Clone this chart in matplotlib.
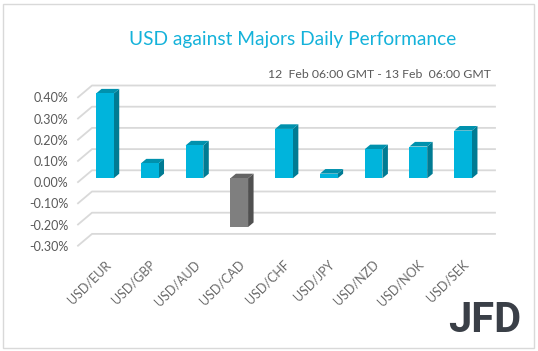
import numpy as np
import matplotlib
matplotlib.use('Agg')
import matplotlib.pyplot as plt
from matplotlib.patches import Polygon, Rectangle

#************************************
''' Data '''
#************************************
pairs = ['USD/EUR', 'USD/GBP', 'USD/AUD', 'USD/CAD', 'USD/CHF',
         'USD/JPY', 'USD/NZD', 'USD/NOK', 'USD/SEK']
perf = [0.40, 0.07, 0.155, -0.23, 0.233, 0.022, 0.137, 0.15, 0.225]
yticks = [-0.3, -0.2, -0.1, 0.0, 0.1, 0.2, 0.3, 0.4]
title = 'USD against Majors Daily Performance'
subtitle = '12  Feb 06:00 GMT - 13 Feb  06:00 GMT'

plt.rcParams['font.family'] = ['Lato', 'DejaVu Sans']
W, H, dpi = 538, 351, 100
fig = plt.figure(figsize=(W/dpi, H/dpi), dpi=dpi)

# front plane of the 3D box, in pixels
fx0, fx1, fy_top, fy_bot = 78, 481, 97.3, 245.7
ax = fig.add_axes([fx0/W, 1-fy_bot/H, (fx1-fx0)/W, (fy_bot-fy_top)/H])
ax.set_xlim(-0.5, len(pairs)-0.5)
ax.set_ylim(yticks[0], yticks[-1])
for s in ax.spines.values():
    s.set_visible(False)

pxx = (fx1-fx0)/len(pairs)
pxy = (fy_bot-fy_top)/(yticks[-1]-yticks[0])

# back wall gridlines
gdx, gdy = 14/pxx, 11.8/pxy
for v in yticks:
    ax.plot([-0.5, -0.5+gdx, len(pairs)-0.5+gdx], [v, v+gdy, v+gdy],
            color='#d9d9d9', lw=1.3, zorder=1, clip_on=False)

# bars: front face through ax.bar, top/side as polygons
ox, oy = 4.5/pxx, 3.8/pxy
ddx, ddy = 5.5/pxx, 4.6/pxy
bw = 17.7/pxx
x = np.arange(len(pairs))
front = ['#00b4dc' if v >= 0 else '#7f7f7f' for v in perf]
side = ['#007b93' if v >= 0 else '#505050' for v in perf]
top = ['#0091ad' if v >= 0 else '#646464' for v in perf]
ax.bar(x+ox, perf, width=bw, bottom=oy, color=front, zorder=3,
       edgecolor='none', clip_on=False)
for i, v in enumerate(perf):
    x0, x1 = i+ox-bw/2, i+ox+bw/2
    lo, hi = oy+min(v, 0), oy+max(v, 0)
    ax.add_patch(Polygon([(x1, lo), (x1, hi), (x1+ddx, hi+ddy), (x1+ddx, lo+ddy)],
                         closed=True, color=side[i], lw=0, zorder=2.9, clip_on=False))
    ax.add_patch(Polygon([(x0, hi), (x1, hi), (x1+ddx, hi+ddy), (x0+ddx, hi+ddy)],
                         closed=True, color=top[i], lw=0, zorder=2.9, clip_on=False))

ax.set_yticks(yticks)
ax.set_yticklabels(['%.2f%%' % v for v in yticks], color='#595959', fontsize=9)
ax.set_xticks(x+0.08)
ax.set_xticklabels(pairs, rotation=45, ha='right', rotation_mode='anchor',
                   color='#6a6a6a', fontsize=9)
ax.tick_params(length=0)
ax.tick_params(axis='y', pad=7)
ax.tick_params(axis='x', pad=9)

fig.text(293/W, 1-39/H, title, color='#14b2da', fontsize=13.8, ha='center', va='center')
fig.text(491/W, 1-74/H, subtitle, color='#595959', fontsize=8.8, ha='right', va='center')
fig.text(485/W, 1-321/H, 'JFD', color='#3a3f47', fontsize=30, fontweight='bold',
         family='Roboto', ha='center', va='center')

fig.patches.append(Rectangle((2.5/W, 3.5/H), 531.5/W, 344/H, transform=fig.transFigure,
                             fill=False, edgecolor='#d9d9d9', lw=1))

fig.savefig('out.png', dpi=dpi)
